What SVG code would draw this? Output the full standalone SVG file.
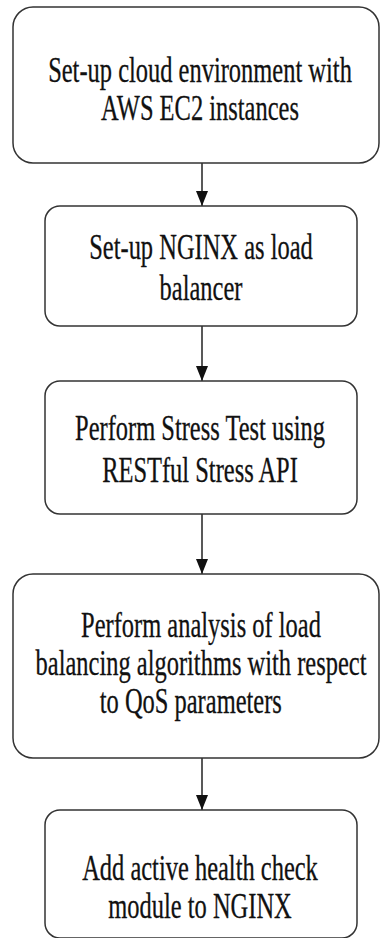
<svg xmlns="http://www.w3.org/2000/svg" width="380" height="938" viewBox="0 0 380 938">
<defs>
<style>
.box{fill:#fff;stroke:#333;stroke-width:1.5}
.lbl{font-size:36px;fill:#111;stroke:#111;stroke-width:0.3;text-anchor:middle}
.conn{stroke:#222;stroke-width:1.5;fill:none}
</style>
<marker id="ah" markerUnits="userSpaceOnUse" markerWidth="16" markerHeight="14" refX="15" refY="6" orient="auto">
<path d="M0,0 L15,6 L0,12 Z" fill="#111"/>
</marker>
</defs>
<rect width="380" height="938" fill="#fff"/>
<g id="connectors">
<line class="conn" x1="202" y1="163" x2="202" y2="206" marker-end="url(#ah)"/>
<line class="conn" x1="202" y1="326" x2="202" y2="381" marker-end="url(#ah)"/>
<line class="conn" x1="202" y1="514" x2="202" y2="574" marker-end="url(#ah)"/>
<line class="conn" x1="202" y1="758" x2="202" y2="810" marker-end="url(#ah)"/>
</g>
<g id="n1">
<rect class="box" x="13" y="7" width="366" height="156" rx="20"/>
<g transform="translate(200,0) scale(0.68,1)" font-family="'Liberation Serif', 'DejaVu Serif', serif">
<text class="lbl" x="0" y="82">Set-up cloud environment with</text>
<text class="lbl" x="0" y="120">AWS EC2 instances</text>
</g>
</g>
<g id="n2">
<rect class="box" x="45" y="206" width="312" height="120" rx="15"/>
<g transform="translate(201,0) scale(0.68,1)" font-family="'Liberation Serif', 'DejaVu Serif', serif">
<text class="lbl" x="0" y="259">Set-up NGINX as load</text>
<text class="lbl" x="0" y="300">balancer</text>
</g>
</g>
<g id="n3">
<rect class="box" x="45" y="381" width="312" height="133" rx="15"/>
<g transform="translate(200,0) scale(0.68,1)" font-family="'Liberation Serif', 'DejaVu Serif', serif">
<text class="lbl" x="0" y="440">Perform Stress Test using</text>
<text class="lbl" x="0" y="482">RESTful Stress API</text>
</g>
</g>
<g id="n4">
<rect class="box" x="13" y="574" width="366" height="184" rx="20"/>
<g transform="translate(201,0) scale(0.68,1)" font-family="'Liberation Serif', 'DejaVu Serif', serif">
<text class="lbl" x="0" y="637">Perform analysis of load</text>
<text class="lbl" x="0" y="675">balancing algorithms with respect</text>
<text class="lbl" x="-15" y="713">to QoS parameters</text>
</g>
</g>
<g id="n5">
<rect class="box" x="45" y="810" width="312" height="128" rx="15"/>
<g transform="translate(200,0) scale(0.68,1)" font-family="'Liberation Serif', 'DejaVu Serif', serif">
<text class="lbl" x="0" y="880">Add active health check</text>
<text class="lbl" x="0" y="918">module to NGINX</text>
</g>
</g>
</svg>
